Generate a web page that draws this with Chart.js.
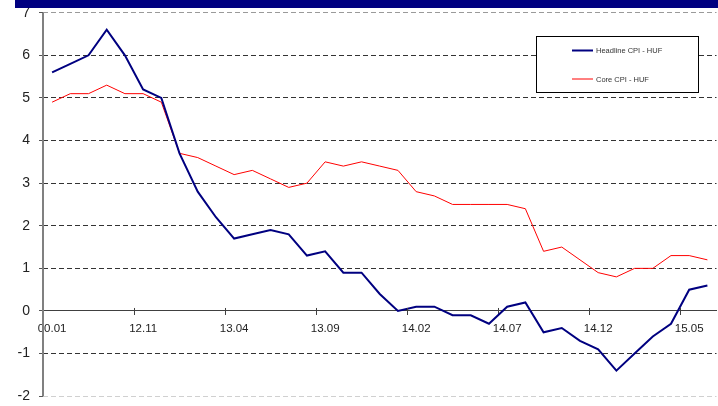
<!DOCTYPE html>
<html>
<head>
<meta charset="utf-8">
<script src="https://cdn.jsdelivr.net/npm/chart.js@4/dist/chart.umd.min.js"></script>
<style>
  html, body { margin: 0; padding: 0; background: #fff; overflow: hidden; }
  canvas { display: block; }
</style>
</head>
<body>
<canvas id="cpi" width="718" height="406"></canvas>
<script>
// Monthly categories (label shown every 5th month)
const months = [
  '00.01','12.07','12.08','12.09','12.10','12.11','12.12',
  '13.01','13.02','13.03','13.04','13.05','13.06','13.07','13.08','13.09','13.10','13.11','13.12',
  '14.01','14.02','14.03','14.04','14.05','14.06','14.07','14.08','14.09','14.10','14.11','14.12',
  '15.01','15.02','15.03','15.04','15.05','15.06'
];

// Year-on-year inflation, %
const headlineCPI = [
  5.6, 5.8, 6.0, 6.6, 6.0, 5.2, 5.0,
  3.7, 2.8, 2.2, 1.7, 1.8, 1.9, 1.8, 1.3, 1.4, 0.9, 0.9, 0.4,
  0.0, 0.1, 0.1, -0.1, -0.1, -0.3, 0.1, 0.2, -0.5, -0.4, -0.7, -0.9,
  -1.4, -1.0, -0.6, -0.3, 0.5, 0.6
];
const coreCPI = [
  4.9, 5.1, 5.1, 5.3, 5.1, 5.1, 4.9,
  3.7, 3.6, 3.4, 3.2, 3.3, 3.1, 2.9, 3.0, 3.5, 3.4, 3.5, 3.4,
  3.3, 2.8, 2.7, 2.5, 2.5, 2.5, 2.5, 2.4, 1.4, 1.5, 1.2, 0.9,
  0.8, 1.0, 1.0, 1.3, 1.3, 1.2
];

const seriesNames = ['Headline CPI - HUF', 'Core CPI - HUF'];
const yMin = -2, yMax = 7, yStep = 1;
const labelEvery = 5;

const FONT = '"Liberation Sans", Arial, sans-serif';

// Navy strip across the top edge
const headerBar = {
  id: 'headerBar',
  afterDraw(chart) {
    const c = chart.ctx;
    c.save();
    c.fillStyle = '#000080';
    c.fillRect(15, 0, chart.width - 15, 8);
    c.restore();
  }
};

// Solid vertical axis line and small cross ticks on the zero line
const axisLines = {
  id: 'axisLines',
  afterDatasetsDraw(chart) {
    const c = chart.ctx;
    const xs = chart.scales.x, ys = chart.scales.y;
    const area = chart.chartArea;
    const y0 = ys.getPixelForValue(0);
    c.save();
    c.setLineDash([]);
    c.strokeStyle = '#404040';
    c.lineWidth = 1;
    for (let i = labelEvery; i < xs.ticks.length; i += labelEvery) {
      const px = Math.round((xs.getPixelForTick(i) + xs.getPixelForTick(i - 1)) / 2) + 0.5;
      c.beginPath();
      c.moveTo(px, y0 - 3);
      c.lineTo(px, y0);
      c.stroke();
    }
    c.strokeStyle = '#808080';
    c.lineWidth = 2;
    c.beginPath();
    c.moveTo(area.left, area.top);
    c.lineTo(area.left, area.bottom);
    c.stroke();
    c.restore();
  }
};

// Boxed legend in the upper right of the plot
const boxLegend = {
  id: 'boxLegend',
  afterDatasetsDraw(chart) {
    const c = chart.ctx;
    const x0 = 536.5, y0 = 36.5, w = 162, h = 56;
    c.save();
    c.setLineDash([]);
    c.fillStyle = '#fff';
    c.fillRect(x0, y0, w, h);
    c.strokeStyle = '#000';
    c.lineWidth = 1;
    c.strokeRect(x0, y0, w, h);
    const rows = [50.5, 79];
    chart.data.datasets.forEach((ds, i) => {
      const y = rows[i];
      c.strokeStyle = ds.borderColor;
      c.lineWidth = ds.borderWidth;
      c.beginPath();
      c.moveTo(572, y);
      c.lineTo(593, y);
      c.stroke();
      c.fillStyle = '#333';
      c.font = '7.5px ' + FONT;
      c.textBaseline = 'middle';
      c.textAlign = 'left';
      c.fillText(ds.label, 596, y + 0.5);
    });
    c.restore();
  }
};

new Chart(document.getElementById('cpi'), {
  type: 'line',
  data: {
    labels: months,
    datasets: [
      {
        label: seriesNames[0],
        data: headlineCPI,
        borderColor: '#000080',
        borderWidth: 2,
        pointRadius: 0,
        tension: 0,
        fill: false
      },
      {
        label: seriesNames[1],
        data: coreCPI,
        borderColor: '#ff0000',
        borderWidth: 1,
        pointRadius: 0,
        tension: 0,
        fill: false
      }
    ]
  },
  options: {
    responsive: false,
    animation: false,
    devicePixelRatio: 1,
    layout: { padding: { top: 12.7, right: 1.5, bottom: 9.8, left: 0 } },
    plugins: {
      legend: { display: false },
      tooltip: { enabled: false }
    },
    scales: {
      x: {
        type: 'category',
        position: { y: 0 },
        offset: true,
        afterFit(scale) { scale.paddingLeft = 0; scale.paddingRight = 0; },
        grid: {
          offset: true,
          drawOnChartArea: false,
          drawTicks: true,
          tickLength: 4,
          color: (ctx) => (ctx.index % labelEvery === 0 ? '#404040' : 'rgba(0,0,0,0)'),
          lineWidth: 1
        },
        border: { display: true, color: '#404040', width: 1 },
        ticks: {
          autoSkip: false,
          maxRotation: 0,
          minRotation: 0,
          padding: 7,
          color: '#222',
          font: { family: FONT, size: 11.5 },
          callback: function (value, index) {
            return index % labelEvery === 0 ? this.getLabelForValue(value) : '';
          }
        }
      },
      y: {
        min: yMin,
        max: yMax,
        afterFit(scale) {
          scale.width = 43;
          scale.paddingTop = 0;
          scale.paddingBottom = 0;
        },
        grid: {
          color: (ctx) => {
            const v = ctx.tick.value;
            if (v === 0) return 'rgba(0,0,0,0)';
            if (v === yMax) return '#9a9a9a';
            if (v === yMin) return '#d0d0d0';
            return '#333';
          },
          lineWidth: 1,
          drawTicks: true,
          tickLength: 4,
          tickColor: '#555',
          tickBorderDash: []
        },
        border: { display: false, dash: [5, 3] },
        ticks: {
          stepSize: yStep,
          padding: 9,
          color: '#222',
          font: { family: FONT, size: 14 }
        }
      }
    }
  },
  plugins: [axisLines, boxLegend, headerBar]
});
</script>
</body>
</html>
